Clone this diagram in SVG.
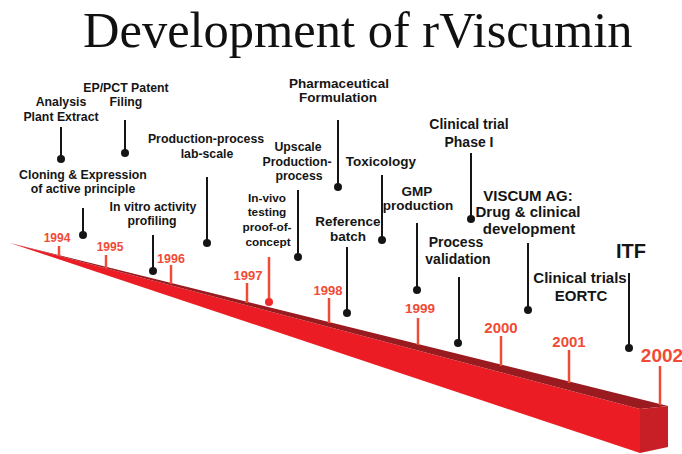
<svg xmlns="http://www.w3.org/2000/svg" width="682" height="454" viewBox="0 0 682 454">
<style>
.t{font-family:"Liberation Sans",Arial,sans-serif;font-weight:bold;fill:#151515;text-anchor:middle}
.y{font-family:"Liberation Sans",Arial,sans-serif;font-weight:bold;fill:#f04b37;text-anchor:middle}
.ln{stroke:#151515;stroke-width:2}
.dot{fill:#151515}
.tick{stroke:#f04b37;stroke-width:2.5}
</style>
<rect width="682" height="454" fill="#ffffff"/>
<text x="83" y="47" font-family="Liberation Serif,'Times New Roman',serif" font-size="50.5" fill="#111">Development of rViscumin</text>

<g id="bar">
<polygon points="10,243 640,409 640,453" fill="#ec1c24"/>
<polygon points="10,243 668,406 640,409" fill="#9a1b1f"/>
<polygon points="640,409 668,406 668,447 640,453" fill="#c81e26"/>
</g>

<g id="years">
<line class="tick" x1="59" y1="246" x2="59" y2="256"/><text class="y" x="57" y="242" font-size="12">1994</text>
<line class="tick" x1="106" y1="255" x2="106" y2="268"/><text class="y" x="110" y="251" font-size="12">1995</text>
<line class="tick" x1="171" y1="265" x2="171" y2="284"/><text class="y" x="171" y="263" font-size="12.5">1996</text>
<line class="tick" x1="247" y1="283" x2="247" y2="303"/><text class="y" x="248" y="280" font-size="13">1997</text>
<line class="tick" x1="329" y1="298" x2="329" y2="323"/><text class="y" x="328" y="295" font-size="13">1998</text>
<line class="tick" x1="418" y1="318" x2="418" y2="345"/><text class="y" x="420" y="313" font-size="13.5">1999</text>
<line class="tick" x1="501" y1="336" x2="501" y2="366"/><text class="y" x="501" y="333" font-size="15">2000</text>
<line class="tick" x1="569" y1="350" x2="569" y2="383"/><text class="y" x="569" y="347" font-size="15">2001</text>
<line class="tick" x1="660" y1="366" x2="660" y2="405"/><text class="y" x="662" y="362" font-size="19">2002</text>
</g>

<g id="connectors">
<line class="ln" x1="61" y1="127" x2="61" y2="158"/><circle class="dot" cx="61" cy="159" r="4"/>
<line class="ln" x1="125" y1="120" x2="125" y2="152"/><circle class="dot" cx="125" cy="153" r="4"/>
<line class="ln" x1="207" y1="177" x2="207" y2="242"/><circle class="dot" cx="207" cy="243" r="4"/>
<line class="ln" x1="83" y1="208" x2="83" y2="234"/><circle class="dot" cx="83" cy="235" r="4"/>
<line class="ln" x1="153" y1="235" x2="153" y2="270"/><circle class="dot" cx="153" cy="271" r="4"/>
<line class="ln" x1="338" y1="120" x2="338" y2="186"/><circle class="dot" cx="338" cy="187" r="4"/>
<line class="ln" x1="298" y1="190" x2="298" y2="256"/><circle class="dot" cx="298" cy="257" r="4"/>
<line class="ln" x1="382" y1="175" x2="382" y2="239"/><circle class="dot" cx="382" cy="240" r="4"/>
<line x1="269" y1="257" x2="269" y2="301" stroke="#f04b37" stroke-width="2.5"/><circle cx="269" cy="302" r="4" fill="#f02a2a"/>
<line class="ln" x1="347" y1="247" x2="347" y2="312"/><circle class="dot" cx="347" cy="313" r="4"/>
<line class="ln" x1="417" y1="223" x2="417" y2="289"/><circle class="dot" cx="417" cy="290" r="4"/>
<line class="ln" x1="471" y1="153" x2="471" y2="218"/><circle class="dot" cx="471" cy="219" r="4"/>
<line class="ln" x1="459" y1="277" x2="459" y2="342"/><circle class="dot" cx="458" cy="343" r="4"/>
<line class="ln" x1="528" y1="243" x2="528" y2="309"/><circle class="dot" cx="528" cy="310" r="4"/>
<line class="ln" x1="629" y1="273" x2="629" y2="347"/><circle class="dot" cx="629" cy="348" r="4"/>
</g>

<g id="n-analysis"><text class="t" font-size="12.3" x="61" y="106">Analysis<tspan x="61" y="121">Plant Extract</tspan></text></g>
<g id="n-patent"><text class="t" font-size="12.3" x="126" y="92">EP/PCT Patent<tspan x="126" y="106">Filing</tspan></text></g>
<g id="n-cloning"><text class="t" font-size="12.3" x="83" y="179">Cloning &amp; Expression<tspan x="83" y="193">of active principle</tspan></text></g>
<g id="n-prodlab"><text class="t" font-size="12.3" x="206" y="143">Production-process<tspan x="207" y="158">lab-scale</tspan></text></g>
<g id="n-invitro"><text class="t" font-size="12.3" x="153" y="211">In vitro activity<tspan x="152" y="225">profiling</tspan></text></g>
<g id="n-pharma"><text class="t" font-size="13.5" x="339" y="88">Pharmaceutical<tspan x="338" y="102">Formulation</tspan></text></g>
<g id="n-upscale"><text class="t" font-size="12.3" x="298" y="151">Upscale<tspan x="297" y="166">Production-</tspan><tspan x="299" y="180">process</tspan></text></g>
<g id="n-invivo"><text class="t" font-size="11.8" x="267" y="202">In-vivo<tspan x="267" y="216">testing</tspan><tspan x="267" y="231">proof-of-</tspan><tspan x="268" y="246">concept</tspan></text></g>
<g id="n-tox"><text class="t" font-size="13.5" x="381" y="166">Toxicology</text></g>
<g id="n-ref"><text class="t" font-size="13.5" x="348" y="226">Reference<tspan x="348" y="241">batch</tspan></text></g>
<g id="n-gmp"><text class="t" font-size="13.5" x="417" y="196">GMP<tspan x="418" y="210">production</tspan></text></g>
<g id="n-phase1"><text class="t" font-size="14" x="469" y="129">Clinical trial<tspan x="469" y="147">Phase I</tspan></text></g>
<g id="n-process"><text class="t" font-size="14" x="456" y="247">Process<tspan x="458" y="264">validation</tspan></text></g>
<g id="n-viscum"><text class="t" font-size="15" x="528" y="201">VISCUM AG:<tspan x="528" y="217">Drug &amp; clinical</tspan><tspan x="529" y="234">development</tspan></text></g>
<g id="n-itf"><text class="t" font-size="20" x="631" y="258">ITF</text></g>
<g id="n-eortc"><text class="t" font-size="15" x="580" y="283">Clinical trials<tspan x="581" y="301">EORTC</tspan></text></g>
</svg>
